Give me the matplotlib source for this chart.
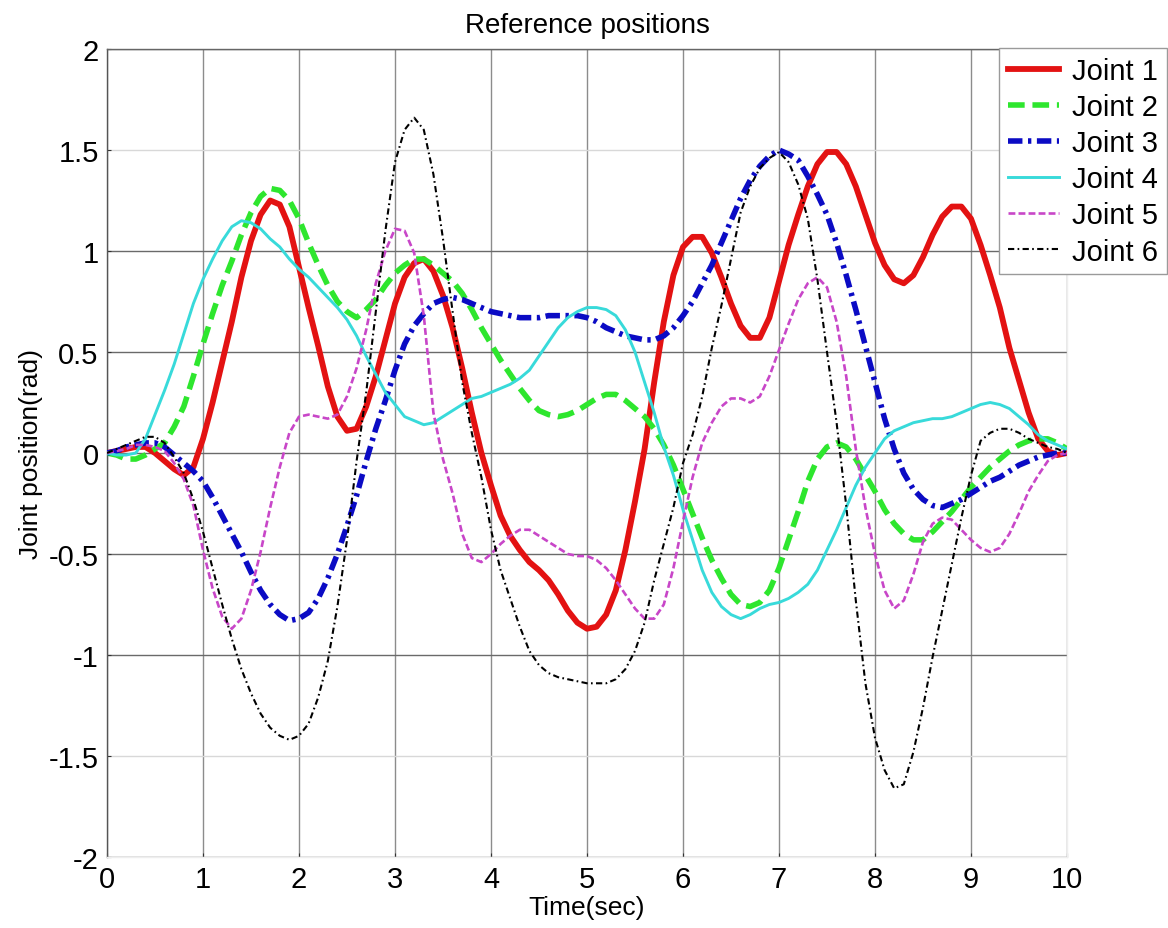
import numpy as np
import matplotlib
matplotlib.use("Agg")
import matplotlib.pyplot as plt

plt.rcParams['font.family'] = ['Liberation Sans', 'DejaVu Sans']

# Sample times (s)
time_s = [round(0.1 * i, 1) for i in range(101)]

joint1 = [0.00, 0.01, 0.02, 0.03, 0.03, 0.00, -0.04, -0.08, -0.11, -0.07,
          0.07, 0.25, 0.45, 0.65, 0.87, 1.05, 1.18, 1.25, 1.23, 1.12,
          0.92, 0.72, 0.53, 0.33, 0.18, 0.11, 0.12, 0.23, 0.38, 0.56,
          0.74, 0.87, 0.94, 0.96, 0.90, 0.78, 0.62, 0.42, 0.20, 0.00,
          -0.16, -0.31, -0.41, -0.48, -0.54, -0.58, -0.63, -0.70, -0.78, -0.84,
          -0.87, -0.86, -0.80, -0.68, -0.48, -0.24, 0.02, 0.35, 0.65, 0.88,
          1.02, 1.07, 1.07, 0.99, 0.87, 0.74, 0.63, 0.57, 0.57, 0.67,
          0.85, 1.03, 1.18, 1.32, 1.43, 1.49, 1.49, 1.43, 1.32, 1.18,
          1.04, 0.93, 0.86, 0.84, 0.88, 0.97, 1.08, 1.17, 1.22, 1.22,
          1.16, 1.03, 0.88, 0.72, 0.52, 0.36, 0.20, 0.07, 0.01, -0.01,
          0.00]

joint2 = [0.00, -0.01, -0.03, -0.03, -0.01, 0.02, 0.05, 0.13, 0.23, 0.38,
          0.54, 0.69, 0.83, 0.95, 1.08, 1.19, 1.27, 1.31, 1.30, 1.25,
          1.16, 1.04, 0.93, 0.83, 0.75, 0.70, 0.67, 0.71, 0.76, 0.83,
          0.89, 0.93, 0.96, 0.96, 0.93, 0.89, 0.85, 0.79, 0.71, 0.62,
          0.54, 0.46, 0.39, 0.32, 0.26, 0.21, 0.19, 0.18, 0.19, 0.21,
          0.24, 0.27, 0.29, 0.29, 0.26, 0.22, 0.18, 0.12, 0.04, -0.06,
          -0.18, -0.30, -0.42, -0.53, -0.62, -0.70, -0.75, -0.76, -0.74, -0.68,
          -0.57, -0.43, -0.29, -0.14, -0.03, 0.03, 0.05, 0.03, -0.03, -0.11,
          -0.19, -0.28, -0.35, -0.40, -0.43, -0.43, -0.39, -0.34, -0.29, -0.23,
          -0.17, -0.12, -0.07, -0.03, 0.01, 0.04, 0.06, 0.07, 0.07, 0.05,
          0.02]

joint3 = [0.00, 0.01, 0.03, 0.04, 0.05, 0.05, 0.03, -0.01, -0.05, -0.09,
          -0.14, -0.22, -0.31, -0.40, -0.49, -0.59, -0.68, -0.75, -0.80, -0.83,
          -0.82, -0.79, -0.72, -0.62, -0.50, -0.36, -0.21, -0.04, 0.12, 0.26,
          0.41, 0.54, 0.63, 0.69, 0.74, 0.76, 0.77, 0.76, 0.74, 0.72,
          0.70, 0.69, 0.68, 0.67, 0.67, 0.67, 0.68, 0.68, 0.68, 0.68,
          0.67, 0.65, 0.62, 0.60, 0.58, 0.57, 0.56, 0.56, 0.58, 0.62,
          0.68, 0.75, 0.84, 0.93, 1.04, 1.15, 1.26, 1.35, 1.42, 1.47,
          1.50, 1.48, 1.45, 1.37, 1.28, 1.18, 1.04, 0.88, 0.71, 0.53,
          0.35, 0.17, 0.02, -0.10, -0.18, -0.23, -0.26, -0.27, -0.25, -0.23,
          -0.20, -0.17, -0.14, -0.12, -0.09, -0.06, -0.04, -0.02, -0.01, 0.00,
          0.00]

joint4 = [0.00, -0.01, -0.01, 0.00, 0.07, 0.19, 0.31, 0.44, 0.59, 0.74,
          0.86, 0.96, 1.05, 1.12, 1.15, 1.14, 1.11, 1.06, 1.02, 0.96,
          0.91, 0.87, 0.82, 0.77, 0.72, 0.66, 0.58, 0.48, 0.39, 0.30,
          0.24, 0.18, 0.16, 0.14, 0.15, 0.18, 0.21, 0.24, 0.27, 0.28,
          0.30, 0.32, 0.34, 0.37, 0.41, 0.48, 0.55, 0.62, 0.67, 0.70,
          0.72, 0.72, 0.71, 0.68, 0.61, 0.50, 0.35, 0.20, 0.03, -0.11,
          -0.28, -0.43, -0.58, -0.69, -0.76, -0.80, -0.82, -0.80, -0.77, -0.75,
          -0.74, -0.72, -0.69, -0.65, -0.58, -0.48, -0.38, -0.27, -0.16, -0.07,
          0.00, 0.07, 0.11, 0.13, 0.15, 0.16, 0.17, 0.17, 0.18, 0.20,
          0.22, 0.24, 0.25, 0.24, 0.22, 0.18, 0.14, 0.09, 0.06, 0.04,
          0.02]

joint5 = [0.00, 0.01, 0.02, 0.04, 0.04, 0.03, 0.01, -0.05, -0.13, -0.26,
          -0.48, -0.67, -0.81, -0.87, -0.82, -0.68, -0.49, -0.27, -0.07, 0.10,
          0.18, 0.19, 0.18, 0.17, 0.19, 0.28, 0.42, 0.61, 0.84, 1.00,
          1.11, 1.10, 0.99, 0.68, 0.20, -0.03, -0.20, -0.40, -0.52, -0.54,
          -0.50, -0.45, -0.41, -0.38, -0.38, -0.41, -0.44, -0.47, -0.50, -0.51,
          -0.51, -0.53, -0.57, -0.63, -0.70, -0.77, -0.82, -0.82, -0.75, -0.57,
          -0.34, -0.12, 0.05, 0.15, 0.23, 0.27, 0.27, 0.25, 0.28, 0.38,
          0.51, 0.64, 0.76, 0.84, 0.87, 0.82, 0.65, 0.38, 0.02, -0.27,
          -0.50, -0.68, -0.77, -0.73, -0.60, -0.44, -0.35, -0.32, -0.33, -0.38,
          -0.43, -0.47, -0.49, -0.47, -0.40, -0.30, -0.19, -0.11, -0.04, -0.01,
          0.00]

joint6 = [0.00, 0.02, 0.04, 0.06, 0.08, 0.08, 0.05, -0.02, -0.10, -0.23,
          -0.39, -0.57, -0.75, -0.92, -1.07, -1.19, -1.29, -1.36, -1.40, -1.42,
          -1.40, -1.34, -1.21, -1.03, -0.76, -0.43, -0.04, 0.30, 0.70, 1.10,
          1.44, 1.60, 1.66, 1.60, 1.38, 1.06, 0.70, 0.35, 0.10, -0.12,
          -0.38, -0.58, -0.72, -0.86, -0.98, -1.05, -1.09, -1.11, -1.12, -1.13,
          -1.14, -1.14, -1.14, -1.12, -1.07, -0.98, -0.84, -0.63, -0.45, -0.27,
          -0.05, 0.09, 0.28, 0.52, 0.73, 0.96, 1.19, 1.32, 1.41, 1.46,
          1.49, 1.44, 1.33, 1.16, 0.86, 0.50, 0.15, -0.26, -0.73, -1.14,
          -1.41, -1.57, -1.66, -1.64, -1.48, -1.26, -1.01, -0.78, -0.55, -0.32,
          -0.11, 0.06, 0.10, 0.12, 0.12, 0.10, 0.07, 0.05, 0.03, 0.02,
          0.00]

labels = ["Joint 1", "Joint 2", "Joint 3", "Joint 4", "Joint 5", "Joint 6"]
x_ticks = list(range(0, 11))
y_ticks = [-2, -1.5, -1, -0.5, 0, 0.5, 1, 1.5, 2]
y_tick_labels = ["-2", "-1.5", "-1", "-0.5", "0", "0.5", "1", "1.5", "2"]

fig = plt.figure(figsize=(11.68, 9.29), dpi=100)
ax = fig.add_axes([107 / 1168, 1 - 858 / 929, 960 / 1168, 808 / 929])

ax.plot(time_s, joint1, color='#e31212', lw=4.2, ls='-', label=labels[0], zorder=3)
ax.plot(time_s, joint2, color='#2ee62e', lw=4.0, ls=(0, (3.0, 1.4)), label=labels[1], zorder=3)
ax.plot(time_s, joint3, color='#0b0bc4', lw=4.0, ls=(0, (2.6, 1.0, 0.6, 1.0)), label=labels[2], zorder=3)
ax.plot(time_s, joint4, color='#38dada', lw=2.1, ls='-', label=labels[3], zorder=3)
ax.plot(time_s, joint5, color='#c846c8', lw=1.9, ls=(0, (2.6, 1.2)), label=labels[4], zorder=3)
ax.plot(time_s, joint6, color='black', lw=1.5, ls=(0, (3.0, 1.6, 0.8, 1.6)), label=labels[5], zorder=3)

ax.set_xlim(0, 10)
ax.set_ylim(-2, 2)
ax.set_xticks(x_ticks)
ax.set_yticks(y_ticks)
ax.set_yticklabels(y_tick_labels)
ax.tick_params(direction='in', length=3, width=0.8, color='#333333',
               labelsize=21)
ax.tick_params(axis='x', pad=6)
ax.tick_params(axis='y', pad=6)

# Grid: vertical lines medium grey; horizontal lines darker except at +-1.5
ax.grid(True, color='#8c8c8c', lw=1.0, zorder=0)
for val, gl in zip(y_ticks, ax.yaxis.get_gridlines()):
    if abs(val) == 1.5:
        gl.set_color('#d8d8d8')
    else:
        gl.set_color('#6a6a6a')

for side, col in [('left', '#555555'), ('top', '#666666'),
                  ('right', '#eeeeee'), ('bottom', '#eeeeee')]:
    ax.spines[side].set_color(col)
    ax.spines[side].set_linewidth(1.0)

ax.set_title("Reference positions", fontsize=20, pad=12)
ax.set_xlabel("Time(sec)", fontsize=19, labelpad=1)
ax.set_ylabel("Joint position(rad)", fontsize=19, labelpad=4)

leg = ax.legend(loc='upper right', bbox_to_anchor=(1167 / 1168, 1 - 49 / 929),
                bbox_transform=fig.transFigure, fontsize=21, frameon=True,
                fancybox=False, framealpha=1, edgecolor='#9a9a9a',
                handlelength=1.75, handletextpad=0.45, labelspacing=0.28,
                borderpad=0.3, borderaxespad=0)
leg.get_frame().set_linewidth(1.0)

fig.savefig("out.png", dpi=100)
